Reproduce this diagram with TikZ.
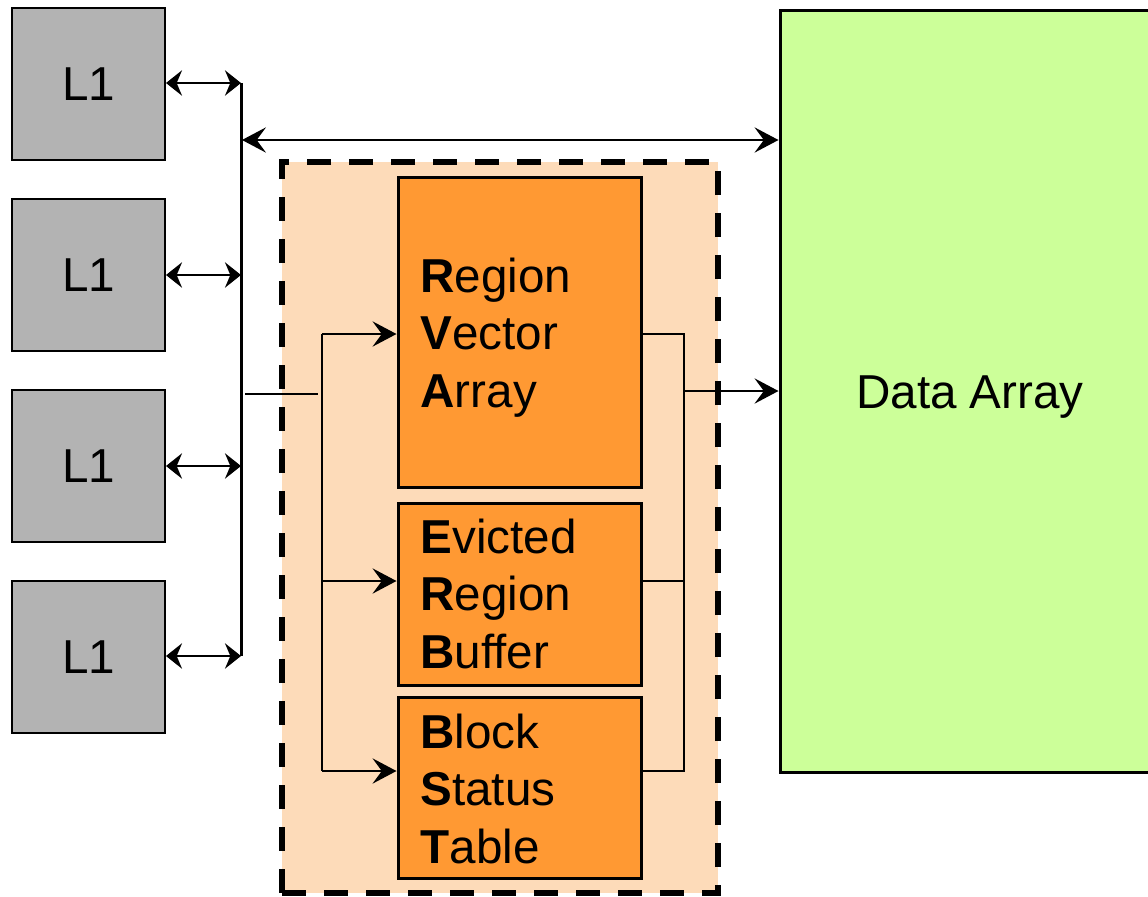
\documentclass[tikz,border=0pt]{standalone}
\usepackage{fontspec}
\setmainfont{Liberation Sans}
\usetikzlibrary{arrows.meta}

\definecolor{cachegray}{HTML}{B3B3B3}
\definecolor{tableorange}{HTML}{FF9933}
\definecolor{ctrlpeach}{HTML}{FDDBB9}
\definecolor{datagreen}{HTML}{CCFF99}

\tikzset{every picture/.style={line width=0.75pt}}
\tikzset{
  bigtext/.style={font=\fontsize{35.7}{43.2}\selectfont},
  cachebox/.style={draw, fill=cachegray, line width=1.5pt, minimum width=114.75pt, minimum height=114pt, inner sep=0pt, bigtext},
  tablebox/.style={draw, fill=tableorange, line width=2.25pt, minimum width=182.25pt},
  tabletext/.style={anchor=base west, inner sep=0pt, text width=160pt, align=left, bigtext},
  ctrlbox/.style={draw, fill=ctrlpeach, line width=4.5pt, dash pattern=on 18pt off 13.5pt, minimum width=327pt, minimum height=548.25pt},
  databox/.style={draw, fill=datagreen, line width=2.25pt, minimum width=285pt, minimum height=571.5pt},
  datatext/.style={anchor=base, inner sep=0pt, bigtext},
  bus/.style={line width=2.25pt},
  link/.style={line width=1pt},
  dbl/.style={{Stealth[length=12pt,width=19pt,inset=4pt]}-{Stealth[length=12pt,width=19pt,inset=4pt]}, line width=1.5pt},
  dbllong/.style={{Stealth[length=18pt,width=19pt,inset=7pt]}-{Stealth[length=18pt,width=19pt,inset=7pt]}, line width=1.1pt},
  feed/.style={-{Stealth[length=18pt,width=19pt,inset=7pt]}, line width=1.1pt}
}

\begin{document}
\begin{tikzpicture}[x=0.75pt,y=0.75pt,yscale=-1,xscale=1]
\useasboundingbox (0,0) rectangle (1148,896);

% Region
\node[ctrlbox] (ctrl) at (500,527.5) {};
% Text Node
\node[cachebox] (l1a) at (88.5,84) {L1};
\node[cachebox] (l1b) at (88.5,275) {L1};
\node[cachebox] (l1c) at (88.5,466) {L1};
\node[cachebox] (l1d) at (88.5,657) {L1};
% Text Node
\node[tablebox, minimum height=232.5pt] (rva) at (519.5,332) {};
\node[tabletext] (rvatext) at (420,292) {\textbf{R}egion\\\textbf{V}ector\\\textbf{A}rray};
\node[tablebox, minimum height=136.5pt] (erb) at (519.5,594) {};
\node[tabletext] (erbtext) at (420,553) {\textbf{E}victed\\\textbf{R}egion\\\textbf{B}uffer};
\node[tablebox, minimum height=135.75pt] (bst) at (519.5,787.5) {};
\node[tabletext] (bsttext) at (420,748) {\textbf{B}lock\\\textbf{S}tatus\\\textbf{T}able};
% Text Node
\node[databox] (data) at (970,391) {};
\node[datatext] (datatext) at (970,408) {Data Array};

\coordinate (bustop) at (241,83);
\coordinate (busbot) at (241,656);
\coordinate (tap) at (242,140);
\coordinate (splitin) at (245,394);
\coordinate (splitout) at (318,394);
\coordinate (sptop) at (322,334);
\coordinate (spmid) at (322,581);
\coordinate (spbot) at (322,771);
\coordinate (mgtop) at (684,334);
\coordinate (mgmid) at (684,581);
\coordinate (mgbot) at (684,771);
\coordinate (mgout) at (684,391);

% Connection
\draw[bus] (bustop) -- (busbot);
\draw[dbl] (l1a.east |- bustop) -- (bustop);
\draw[dbl] (l1b.east) -- (l1b.east -| bustop);
\draw[dbl] (l1c.east) -- (l1c.east -| bustop);
\draw[dbl] (l1d.east |- busbot) -- (busbot);
\draw[dbllong] (tap) -- (tap -| data.west);
% Connection
\draw[link] (splitin) -- (splitout);
\draw[link] (sptop) -- (spbot);
\draw[feed] (sptop) -- (sptop -| rva.west);
\draw[feed] (spmid) -- (spmid -| erb.west);
\draw[feed] (spbot) -- (spbot -| bst.west);
% Connection
\draw[link] (mgtop -| rva.east) -- (mgtop) -- (mgbot) -- (mgbot -| bst.east);
\draw[link] (mgmid -| erb.east) -- (mgmid);
\draw[feed] (mgout) -- (mgout -| data.west);

\end{tikzpicture}
\end{document}
